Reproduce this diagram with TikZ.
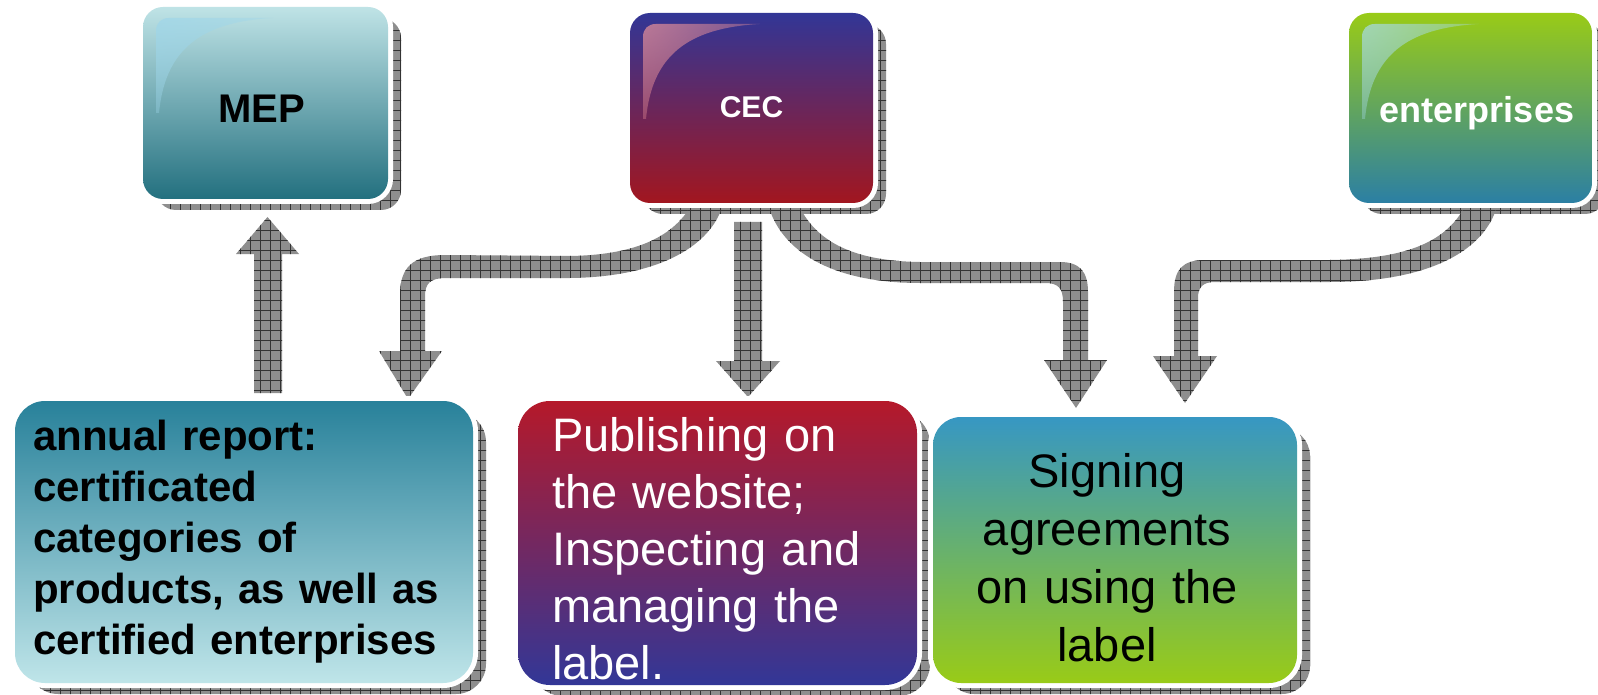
\documentclass[tikz,border=0pt]{standalone}
\usepackage{fontspec}
\setmainfont{Liberation Sans}
\usetikzlibrary{calc,fadings}
\definecolor{mepTop}{HTML}{BFE3E6}\definecolor{mepBot}{HTML}{23707F}
\definecolor{cecTop}{HTML}{323696}\definecolor{cecBot}{HTML}{A2161F}
\definecolor{entTop}{HTML}{99CB17}\definecolor{entBot}{HTML}{2B7FA4}
\definecolor{annTop}{HTML}{28819A}\definecolor{annBot}{HTML}{BFE5E9}
\definecolor{pubTop}{HTML}{B5192A}\definecolor{pubBot}{HTML}{323797}
\definecolor{sigTop}{HTML}{3797C3}\definecolor{sigBot}{HTML}{99CB17}
\definecolor{hlBlue}{HTML}{9ED6EA}\definecolor{hlPink}{HTML}{F0959A}
\definecolor{hlEnt}{HTML}{A8DCF0}\definecolor{patGray}{HTML}{8E8E8E}
\pgfdeclarelayer{shadowlayer}
\pgfdeclarelayer{arrowlayer}
\pgfsetlayers{shadowlayer,arrowlayer,main}
\begin{tikzfadingfrompicture}[name=hlfade]
  \path[use as bounding box] (0,0) rectangle (100bp,100bp);
  \shade[inner color=transparent!0, outer color=transparent!100] (0,100bp) circle (120bp);
\end{tikzfadingfrompicture}
\tikzset{
  gbox/.style={rectangle, rounded corners=#1, inner sep=0pt, outer sep=0pt,
    preaction={draw=white, line width=10pt}},
  patfill/.style={fill=patGray},
  gridline/.style={black!80, line width=0.5pt, step=10pt},
}
\newcommand\dropshadow[2]{%
  \begin{scope}
    \clip[rounded corners=#2] ($(#1.north west)+(13,11)$) rectangle ($(#1.south east)+(13,11)$);
    \fill[patfill] (0,0) rectangle (1598,695);
    \draw[gridline] (0,0) grid (1598,695);
  \end{scope}}
\newcommand\blockarrow[1]{%
  \begin{scope}
    \clip #1;
    \fill[patfill] (0,0) rectangle (1598,695);
    \draw[gridline] (0,0) grid (1598,695);
  \end{scope}}
\newcommand\glossy[2]{%
  \begin{scope}[shift={(#1.north west)}]
    \fill[#2, path fading=hlfade] (13,106) -- (13,24) .. controls (13,16) and (18,11) .. (26,11)
      -- (130,11) .. controls (57,15) and (22,43) .. (16,106) -- cycle;
  \end{scope}}
\begin{document}
\begin{tikzpicture}[x=1pt,y=-1pt]
\useasboundingbox (0,0) rectangle (1598,695);
% boxes
\node[gbox=20pt, minimum width=245pt, minimum height=192pt, top color=mepTop, bottom color=mepBot,
  font=\fontsize{40}{48}\selectfont\bfseries, text=black, text height=40pt, text depth=0pt] (mep) at (265.5,103) {MEP\hspace*{7pt}};
\node[gbox=20pt, minimum width=243pt, minimum height=190pt, top color=cecTop, bottom color=cecBot,
  font=\fontsize{30}{36}\selectfont\bfseries, text=white, text height=20pt, text depth=0pt] (cec) at (751.5,108) {CEC};
\node[gbox=20pt, minimum width=243pt, minimum height=190pt, top color=entTop, bottom color=entBot,
  font=\fontsize{36}{44}\selectfont\bfseries, text=white, text height=30pt, text depth=0pt] (ent) at (1470.5,108) {\hspace*{13pt}enterprises};
\node[gbox=30pt, minimum width=458pt, minimum height=282pt, top color=annTop, bottom color=annBot,
  text width=422pt, inner xsep=18pt, align=left, font=\fontsize{42}{51}\selectfont\bfseries, text=black,
  text height=0pt, text depth=184pt] (ann) at (244,542)
  {annual report:\\certificated\\categories of\\products, as well as\\certified enterprises};
\node[gbox=32pt, minimum width=399pt, minimum height=284pt, top color=pubTop, bottom color=pubBot,
  text width=331pt, inner xsep=34pt, align=left, font=\fontsize{47}{57}\selectfont, text=white,
  text height=0pt, text depth=184pt] (pub) at (717.5,543)
  {Publishing on\\the website;\\Inspecting and\\managing the\\label.};
\node[gbox=28pt, minimum width=364pt, minimum height=266pt, top color=sigTop, bottom color=sigBot,
  text width=300pt, inner xsep=32pt, font=\fontsize{47}{58}\selectfont, text=black,
  text height=0pt, text depth=126pt] (sig) at (1115,550)
  {\centering\leftskip=0pt plus 1fil\rightskip=16pt plus 1fil Signing\\agreements\\on using the\\label\par};
% highlights
\glossy{mep}{hlBlue}
\glossy{cec}{hlPink}
\glossy{ent}{hlEnt}
% shadows
\begin{pgfonlayer}{shadowlayer}
  \dropshadow{mep}{20pt}
  \dropshadow{cec}{20pt}
  \dropshadow{ent}{20pt}
  \dropshadow{ann}{30pt}
  \dropshadow{pub}{32pt}
  \dropshadow{sig}{28pt}
\end{pgfonlayer}
% arrows
\begin{pgfonlayer}{arrowlayer}
  % ann -> mep
  \blockarrow{(254,393) -- (254,254) -- (236,254) -- (267.5,217) -- (299,254) -- (282,254) -- (282,393) -- cycle}
  % cec -> ann
  \blockarrow{(692,204) .. controls (672,240) and (630,255) .. (570,256) -- (445,255)
    .. controls (412,255) and (400,268) .. (400,295) -- (400,351) -- (379,351) -- (408,399) -- (442,351)
    -- (425,351) -- (425,297) .. controls (425,283) and (430,278) .. (447,278) -- (570,278)
    .. controls (660,277) and (712,245) .. (723,204) -- cycle}
  % cec -> pub
  \blockarrow{(734,222) -- (734,361) -- (716,361) -- (748,397) -- (780,361) -- (762,361) -- (762,222) -- cycle}
  % cec -> sig
  \blockarrow{(798,204) .. controls (815,240) and (850,261) .. (920,262) -- (1060,262)
    .. controls (1080,262) and (1088,272) .. (1088,292) -- (1088,360) -- (1107,360) -- (1076,408) -- (1044,360)
    -- (1063,360) -- (1063,302) .. controls (1063,288) and (1058,283) .. (1045,283) -- (920,283)
    .. controls (830,283) and (780,250) .. (768,204) -- cycle}
  % ent -> sig
  \blockarrow{(1465,206) .. controls (1445,245) and (1400,259) .. (1330,260) -- (1205,260)
    .. controls (1182,260) and (1174,270) .. (1174,292) -- (1174,356) -- (1153,356) -- (1185,403) -- (1217,356)
    -- (1198,356) -- (1198,298) .. controls (1198,287) and (1203,282) .. (1215,282) -- (1330,282)
    .. controls (1430,282) and (1485,250) .. (1497,206) -- cycle}
\end{pgfonlayer}
\end{tikzpicture}
\end{document}
